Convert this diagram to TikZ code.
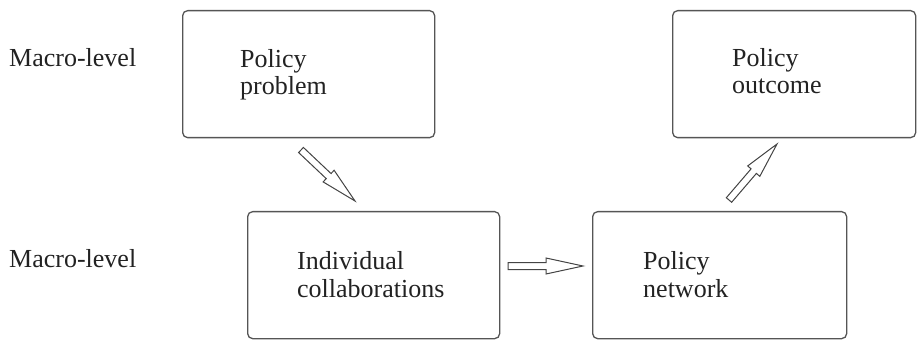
\documentclass[tikz,border=0pt]{standalone}
\usepackage{fontspec}
\setmainfont{Liberation Serif}
\usetikzlibrary{calc}
\definecolor{linegray}{HTML}{555555}
\definecolor{txt}{HTML}{222222}
\tikzset{
  box/.style={draw=linegray, line width=1.3pt, rounded corners=5pt, inner sep=0pt, anchor=north west},
  label/.style={anchor=base west, inner sep=0pt, align=left, text=txt, font=\fontsize{26}{27.5}\selectfont},
  blockarrow/.style={draw=linegray!80!black, line width=1pt, fill=white, line join=miter}
}
\newcommand\hollowarrow[2]{%
  \coordinate (#1h) at ($(#1)!38pt!(#2)$);
  \draw[blockarrow]
    ($(#1)!3.5pt!90:(#2)$) -- ($(#1h)!3.5pt!90:(#2)$) -- ($(#1h)!8pt!90:(#2)$)
    -- (#2) -- ($(#1h)!8pt!-90:(#2)$) -- ($(#1h)!3.5pt!-90:(#2)$)
    -- ($(#1)!3.5pt!-90:(#2)$) -- cycle;}
\begin{document}
\begin{tikzpicture}[x=1pt,y=1pt]
\useasboundingbox (0,0) rectangle (917,340);
% boxes
\node[box, minimum width=252pt, minimum height=127pt] (prob) at (182,330) {};
\node[box, minimum width=243pt, minimum height=127pt] (outc) at (672,330) {};
\node[box, minimum width=252pt, minimum height=127pt] (coll) at (247,129) {};
\node[box, minimum width=254pt, minimum height=127pt] (netw) at (592,129) {};
% texts (anchor = baseline of the last line)
\node[label] (m1) at (9,273) {Macro-level};
\node[label] (m2) at (9,73) {Macro-level};
\node[label] (tprob) at (240,245) {Policy\\problem};
\node[label] (tcoll) at (297,43) {Individual\\collaborations};
\node[label] (toutc) at (732,246) {Policy\\outcome};
\node[label] (tnetw) at (643,43) {Policy\\network};
% arrow end points
\coordinate (a1s) at (301,190); \coordinate (a1e) at (355,139);
\coordinate (a2s) at (508,74);  \coordinate (a2e) at (583,74);
\coordinate (a3s) at (729,140); \coordinate (a3e) at (777,196);
\hollowarrow{a1s}{a1e}
\hollowarrow{a2s}{a2e}
\hollowarrow{a3s}{a3e}
\end{tikzpicture}
\end{document}
